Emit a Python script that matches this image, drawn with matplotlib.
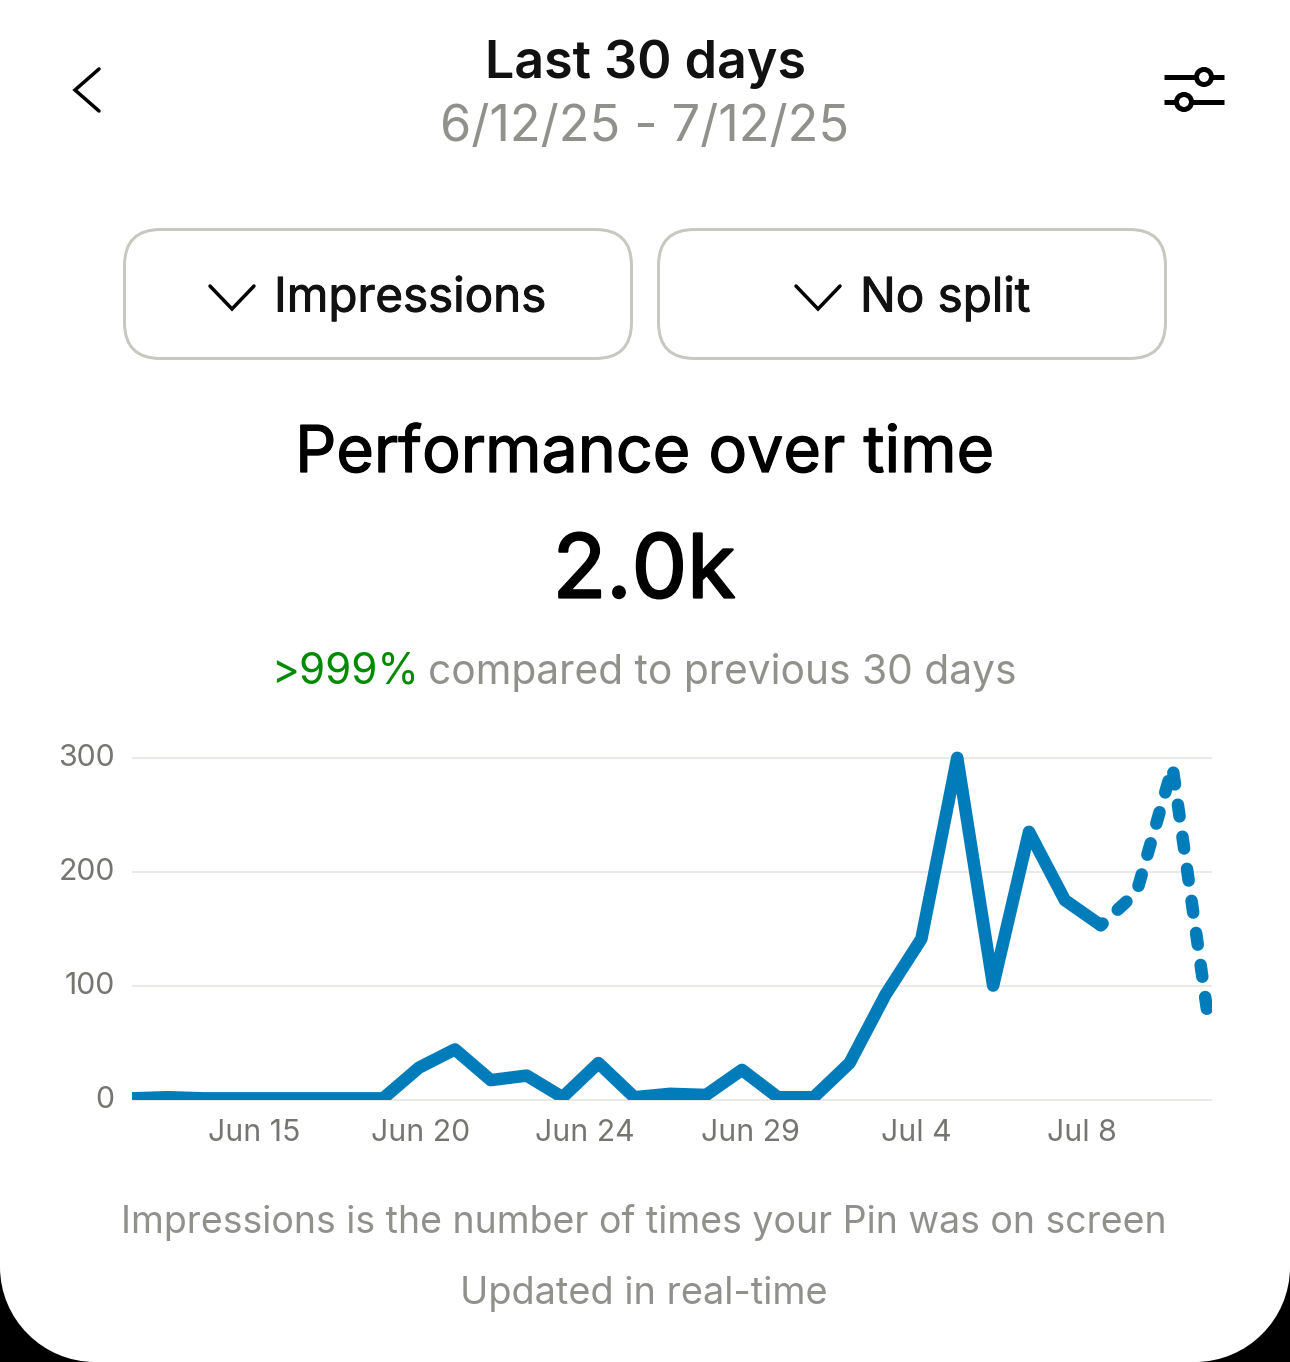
import matplotlib
matplotlib.use("Agg")
import matplotlib.pyplot as plt
import matplotlib.patheffects as pe
from matplotlib.patches import FancyBboxPatch, Circle, PathPatch
from matplotlib.path import Path
from matplotlib.transforms import ScaledTranslation

W, H = 1290, 1362
DPI = 100

impressions_solid = [1, 2, 1, 1, 1, 1, 1, 1, 28, 44, 17, 21, 2, 32, 2, 5, 4, 26, 2, 2, 32, 92, 141, 300, 100, 235, 175, 153]
impressions_dashed = [153, 182, 292, 70]
y_ticks = [0, 100, 200, 300]
x_tick_pos = [3.40, 8.03, 12.62, 17.24, 21.85, 26.47]
x_tick_labels = ["Jun 15", "Jun 20", "Jun 24", "Jun 29", "Jul 4", "Jul 8"]

FONT = "Inter"
plt.rcParams["font.family"] = [FONT, "DejaVu Sans"]
BLUE = "#007cba"
GRAY = "#91918c"
TICK = "#767671"
GRID = "#e9e9e6"
GREEN = "#008a00"
BORDER = "#c8c8c1"

fig = plt.figure(figsize=(W / DPI, H / DPI), dpi=DPI, facecolor="white")

ui = fig.add_axes([0, 0, 1, 1], zorder=0)
ui.set_xlim(0, W)
ui.set_ylim(H, 0)
ui.axis("off")


def t(x, y, s, px, color="#111111", ha="center", weight="normal", stroke=0):
    txt = ui.text(x, y, s, fontsize=px * 72 / DPI, color=color, ha=ha, va="center", fontweight=weight)
    if stroke:
        txt.set_path_effects([pe.withStroke(linewidth=stroke, foreground=color)])


def seg(xs, ys, lw_px, color="black", cap="round"):
    ui.plot(xs, ys, color=color, lw=lw_px * 72 / DPI, solid_capstyle=cap, solid_joinstyle="miter")


# header
t(645.5, 64, "Last 30 days", 52, color="#111111", weight="semibold")
t(645, 127.5, "6/12/25 - 7/12/25", 50.4, color=GRAY)
seg([99, 75, 99], [69, 90, 111], 3.5)

# filter icon
seg([1164, 1224], [77, 77], 5, cap="butt")
seg([1164, 1224], [102, 102], 5, cap="butt")
for cx, cy in [(1204, 77), (1184, 102)]:
    ui.add_patch(Circle((cx, cy), 7.5, facecolor="white", edgecolor="black", lw=5 * 72 / DPI, zorder=3))

# buttons
for x0, x1 in [(124.5, 631.5), (658.5, 1165.5)]:
    ui.add_patch(FancyBboxPatch((x0 + 36, 229.5 + 36), x1 - x0 - 72, 129 - 72,
                                boxstyle="round,pad=36,rounding_size=36",
                                facecolor="white", edgecolor=BORDER, lw=3 * 72 / DPI))
seg([210, 232, 254], [286, 309, 286], 3.5)
seg([796, 818, 840], [286, 309, 286], 3.5)
t(274, 299, "Impressions", 47.5, ha="left", stroke=0.7)
t(860, 299, "No split", 47.5, ha="left", stroke=0.7)

# headline
t(645, 455, "Performance over time", 64.5, color="black", stroke=0.9)
t(644, 574, "2.0k", 88, color="black", stroke=1.6)
t(271, 672, ">999%", 42.3, color=GREEN, ha="left")
t(428, 672, "compared to previous 30 days", 40.7, color=GRAY, ha="left")

# footer
t(644, 1223, "Impressions is the number of times your Pin was on screen", 37.5, color=GRAY)
t(644, 1294, "Updated in real-time", 38, color=GRAY)

# rounded bottom corners of the screenshot
R = 95
K = 0.55 * R
left = Path([(0, H), (0, H - R), (0, H - R + K), (R - K, H), (R, H), (0, H)],
            [Path.MOVETO, Path.LINETO, Path.CURVE4, Path.CURVE4, Path.CURVE4, Path.CLOSEPOLY])
right = Path([(W, H), (W, H - R), (W, H - R + K), (W - R + K, H), (W - R, H), (W, H)],
             [Path.MOVETO, Path.LINETO, Path.CURVE4, Path.CURVE4, Path.CURVE4, Path.CLOSEPOLY])
ui.add_patch(PathPatch(left, facecolor="black", edgecolor="none"))
ui.add_patch(PathPatch(right, facecolor="black", edgecolor="none"))

# chart
left_px, right_px, zero_px, top_px = 132, 1212, 1099.5, 740
ax = fig.add_axes([left_px / W, 1 - zero_px / H, (right_px - left_px) / W, (zero_px - top_px) / H], zorder=2)
ax.patch.set_alpha(0)
ax.set_xlim(0, 30.1)
ax.set_ylim(0, (zero_px - top_px) / 1.139)
for s in ax.spines.values():
    s.set_visible(False)
ax.set_yticks(y_ticks)
ax.set_yticklabels([str(v) for v in y_ticks])
ax.set_xticks(x_tick_pos)
ax.set_xticklabels(x_tick_labels)
ax.tick_params(axis="both", length=0, labelcolor=TICK, labelsize=30.3 * 72 / DPI)
ax.tick_params(axis="y", pad=12.5)
ax.tick_params(axis="x", pad=14)
nudge = ScaledTranslation(0, 2.5 / DPI, fig.dpi_scale_trans)
for lbl in ax.get_yticklabels():
    lbl.set_transform(lbl.get_transform() + nudge)
for v in y_ticks:
    ax.plot([0, 1], [v, v], transform=ax.get_yaxis_transform(), color=GRID, lw=2 * 72 / DPI,
            zorder=1, clip_on=False, solid_capstyle="butt")

LW = 12.5 * 72 / DPI
ax.plot(range(len(impressions_solid)), impressions_solid, color=BLUE, lw=LW,
        solid_capstyle="round", solid_joinstyle="round", zorder=3)
start = len(impressions_solid) - 1
ax.plot(range(start, start + len(impressions_dashed)), impressions_dashed, color=BLUE, lw=LW,
        linestyle=(0.75, (0.95, 1.64)), dash_capstyle="round", dash_joinstyle="round", zorder=3)

fig.savefig("out.png", dpi=DPI, facecolor="white")
